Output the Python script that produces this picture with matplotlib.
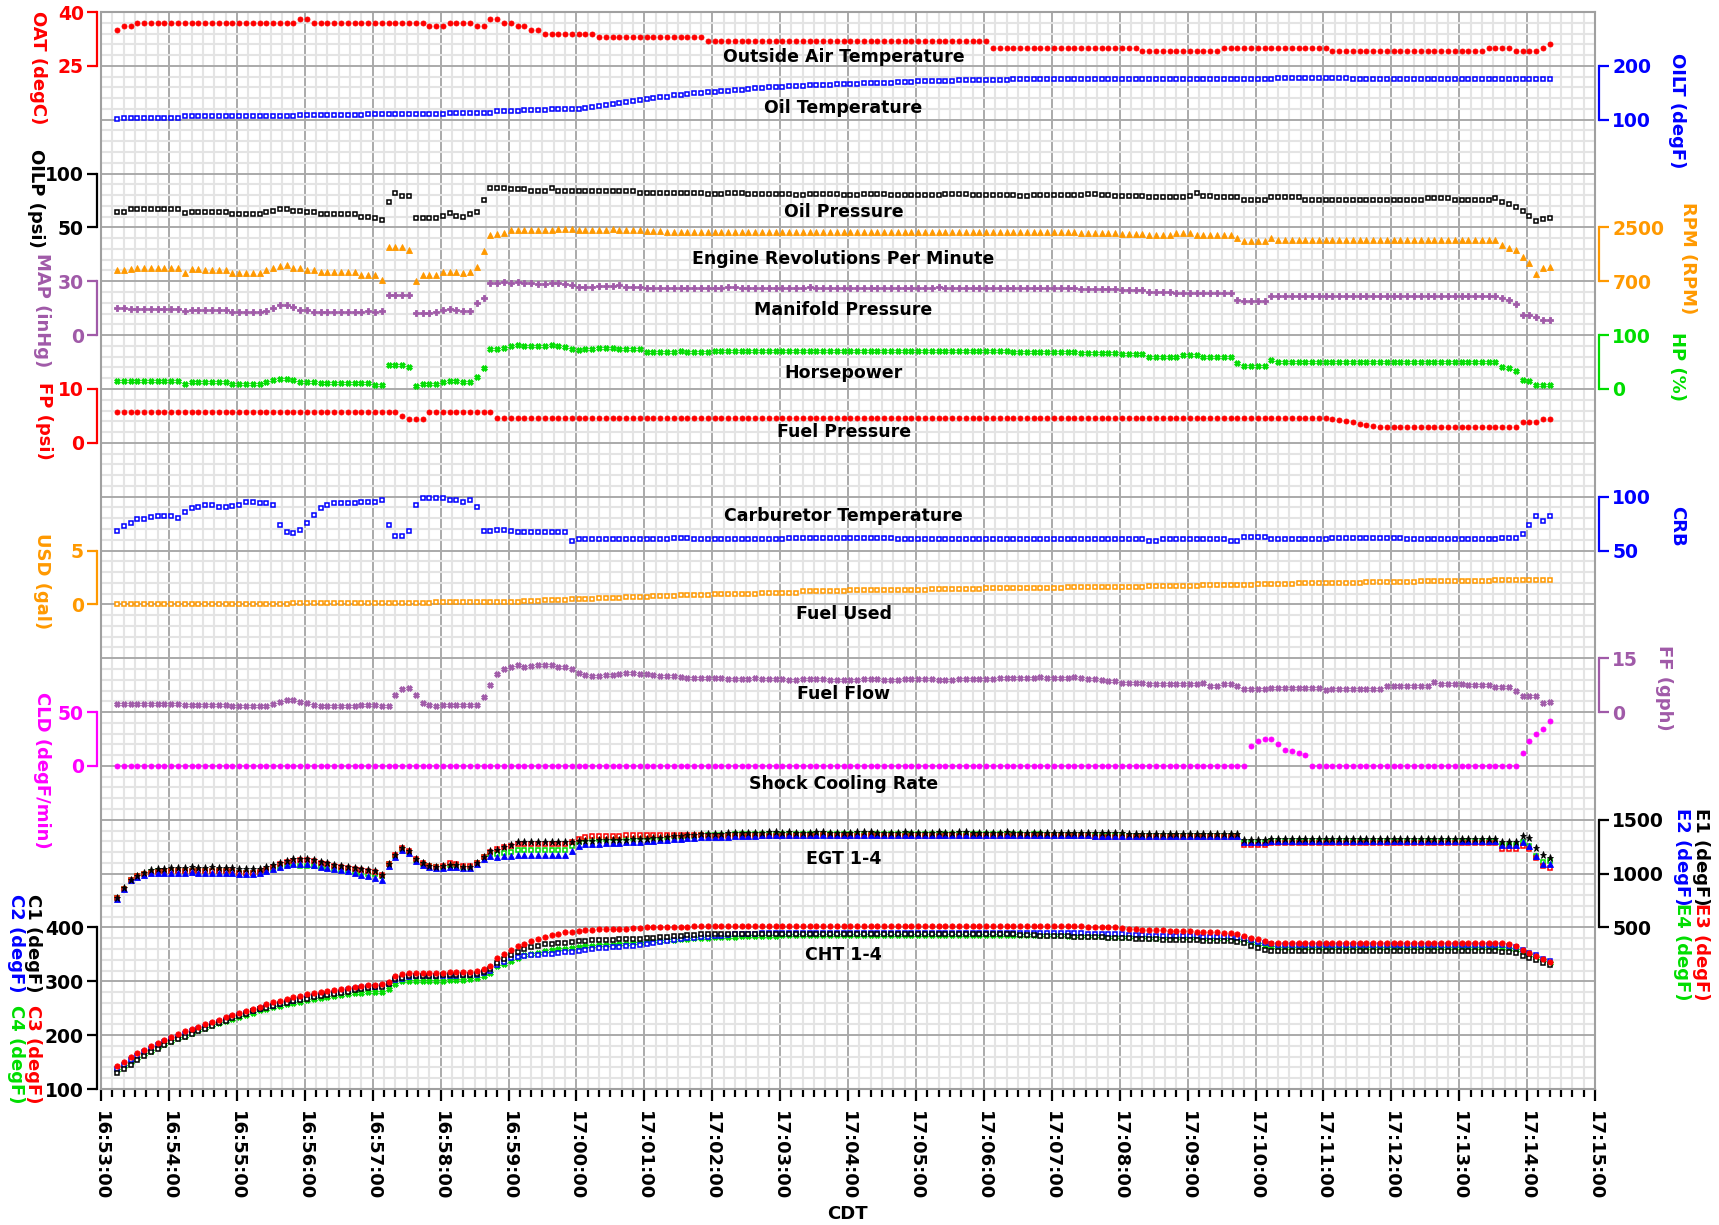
import matplotlib
matplotlib.use("Agg")
import matplotlib.pyplot as plt
from matplotlib.ticker import MultipleLocator
import matplotlib.dates as mdates
import pandas as pd

plt.rcParams["font.family"] = ["DejaVu Sans"]
plt.rcParams["font.weight"] = "bold"

# engine monitor log, one sample every 6 s
start_time = "2023-07-01 16:53:14"
sample_step = "6s"
x_from = "2023-07-01 16:53:00"
x_to = "2023-07-01 17:15:00"

# rows = one minute of samples (first row 16:53, last row 17:14)
oat = [35, 36, 36, 37, 37, 37, 37, 37,
       37, 37, 37, 37, 37, 37, 37, 37, 37, 37,
       37, 37, 37, 37, 37, 37, 37, 37, 37, 38,
       38, 37, 37, 37, 37, 37, 37, 37, 37, 37,
       37, 37, 37, 37, 37, 37, 37, 37, 36, 36,
       36, 37, 37, 37, 37, 36, 36, 38, 38, 37,
       37, 36, 36, 35, 35, 34, 34, 34, 34, 34,
       34, 34, 34, 33, 33, 33, 33, 33, 33, 33,
       33, 33, 33, 33, 33, 33, 33, 33, 33, 32,
       32, 32, 32, 32, 32, 32, 32, 32, 32, 32,
       32, 32, 32, 32, 32, 32, 32, 32, 32, 32,
       32, 32, 32, 32, 32, 32, 32, 32, 32, 32,
       32, 32, 32, 32, 32, 32, 32, 32, 32, 32,
       32, 30, 30, 30, 30, 30, 30, 30, 30, 30,
       30, 30, 30, 30, 30, 30, 30, 30, 30, 30,
       30, 30, 30, 29, 29, 29, 29, 29, 29, 29,
       29, 29, 29, 29, 29, 30, 30, 30, 30, 30,
       30, 30, 30, 30, 30, 30, 30, 30, 30, 30,
       30, 29, 29, 29, 29, 29, 29, 29, 29, 29,
       29, 29, 29, 29, 29, 29, 29, 29, 29, 29,
       29, 29, 29, 29, 30, 30, 30, 30, 29, 29,
       29, 29, 30, 31]

oilt = [101, 104, 104, 104, 104, 104, 104, 104,
        104, 104, 106, 106, 106, 106, 106, 106, 106, 106,
        106, 106, 106, 106, 106, 106, 106, 106, 106, 108,
        108, 108, 108, 108, 108, 108, 108, 108, 108, 111,
        111, 111, 111, 111, 111, 111, 111, 111, 111, 111,
        111, 113, 113, 113, 113, 113, 113, 113, 116, 116,
        116, 116, 118, 118, 118, 118, 120, 120, 120, 120,
        120, 121, 123, 125, 127, 129, 131, 133, 135, 137,
        139, 140, 142, 143, 145, 146, 147, 149, 150, 151,
        152, 153, 154, 155, 156, 157, 158, 159, 160, 161,
        161, 162, 163, 163, 164, 164, 165, 165, 166, 166,
        167, 167, 168, 168, 168, 169, 169, 170, 170, 170,
        171, 171, 171, 172, 172, 172, 173, 173, 173, 173,
        174, 174, 174, 174, 175, 175, 175, 175, 175, 175,
        175, 175, 175, 176, 176, 176, 176, 176, 176, 176,
        176, 176, 176, 176, 176, 176, 176, 176, 176, 176,
        176, 176, 176, 176, 176, 176, 176, 176, 176, 176,
        176, 176, 176, 177, 177, 177, 177, 177, 177, 177,
        177, 177, 177, 177, 176, 176, 176, 176, 176, 176,
        176, 176, 176, 176, 176, 176, 176, 176, 176, 176,
        176, 176, 176, 176, 175, 175, 175, 175, 175, 175,
        175, 175, 175, 175]

oilp = [64, 64, 67, 67, 67, 67, 67, 67,
        67, 67, 63, 64, 64, 64, 64, 64, 64, 62,
        62, 62, 62, 62, 64, 65, 67, 67, 65, 65,
        64, 64, 62, 62, 62, 62, 62, 62, 60, 60,
        59, 57, 74, 82, 79, 79, 59, 59, 59, 59,
        61, 63, 61, 60, 62, 64, 75, 87, 87, 87,
        86, 86, 86, 84, 84, 84, 87, 84, 84, 84,
        84, 84, 84, 84, 84, 84, 84, 84, 84, 82,
        82, 82, 82, 82, 82, 82, 82, 82, 82, 81,
        81, 81, 82, 82, 82, 81, 81, 81, 81, 81,
        81, 81, 80, 80, 81, 81, 81, 81, 81, 80,
        80, 80, 81, 81, 81, 81, 80, 80, 80, 80,
        80, 80, 80, 80, 81, 81, 81, 81, 80, 80,
        80, 80, 80, 80, 80, 79, 79, 80, 80, 80,
        80, 80, 80, 80, 80, 81, 81, 80, 80, 79,
        79, 79, 79, 79, 78, 78, 78, 78, 78, 78,
        79, 82, 79, 79, 78, 78, 78, 78, 75, 75,
        75, 75, 78, 78, 78, 78, 78, 75, 75, 75,
        75, 75, 75, 75, 75, 75, 75, 75, 75, 75,
        75, 75, 75, 75, 75, 77, 77, 77, 77, 75,
        75, 75, 75, 75, 75, 77, 74, 72, 69, 65,
        61, 56, 58, 59]

rpm = [1080, 1080, 1115, 1140, 1140, 1140, 1140, 1140,
       1140, 1140, 980, 1105, 1105, 1080, 1080, 1080, 1080, 970,
       970, 970, 970, 970, 1080, 1140, 1205, 1260, 1140, 1140,
       1080, 1080, 1005, 1005, 1005, 1005, 1005, 1005, 915, 915,
       915, 745, 1835, 1835, 1835, 1735, 720, 925, 925, 925,
       1025, 1025, 1000, 960, 1000, 1190, 1705, 2245, 2290, 2310,
       2400, 2420, 2420, 2400, 2420, 2400, 2400, 2445, 2445, 2445,
       2400, 2400, 2400, 2400, 2400, 2445, 2400, 2400, 2400, 2400,
       2380, 2380, 2380, 2335, 2335, 2335, 2335, 2335, 2335, 2335,
       2335, 2335, 2335, 2335, 2335, 2335, 2335, 2335, 2335, 2335,
       2335, 2335, 2360, 2335, 2335, 2335, 2335, 2335, 2335, 2335,
       2335, 2335, 2335, 2335, 2335, 2335, 2335, 2335, 2335, 2335,
       2335, 2335, 2335, 2360, 2335, 2335, 2335, 2335, 2335, 2335,
       2335, 2335, 2335, 2335, 2335, 2335, 2335, 2335, 2335, 2335,
       2335, 2335, 2335, 2335, 2300, 2300, 2300, 2300, 2300, 2300,
       2280, 2280, 2280, 2280, 2240, 2240, 2240, 2240, 2300, 2300,
       2300, 2240, 2240, 2240, 2240, 2240, 2240, 2140, 2030, 2030,
       2030, 2030, 2140, 2095, 2095, 2095, 2095, 2095, 2095, 2095,
       2095, 2095, 2095, 2095, 2095, 2095, 2095, 2095, 2095, 2095,
       2095, 2095, 2095, 2095, 2095, 2095, 2095, 2095, 2095, 2095,
       2095, 2095, 2095, 2095, 2095, 2095, 1905, 1825, 1735, 1520,
       1310, 945, 1145, 1190]

map_inhg = [14.9, 14.9, 14.3, 14.3, 14.3, 14.3, 14.3, 14.3,
            14.3, 14.3, 13.2, 13.8, 13.8, 13.8, 13.8, 13.8, 13.8, 12.7,
            12.7, 12.7, 12.7, 12.7, 13.2, 14.9, 16.6, 17.0, 15.8, 14.0,
            14.0, 13.0, 13.0, 13.0, 13.0, 13.0, 13.0, 13.0, 13.0, 13.2,
            13.0, 13.2, 22.5, 22.5, 22.5, 22.5, 12.3, 12.3, 12.3, 13.0,
            14.0, 14.3, 14.0, 13.2, 13.6, 18.1, 20.7, 29.1, 29.1, 29.4,
            29.1, 29.4, 29.1, 29.1, 28.7, 28.7, 29.1, 29.1, 28.7, 28.0,
            27.0, 27.0, 27.0, 27.4, 27.4, 27.4, 27.8, 27.0, 27.0, 27.0,
            26.5, 26.5, 26.5, 26.0, 26.0, 26.0, 26.3, 26.3, 26.3, 26.3,
            26.3, 26.3, 26.6, 26.6, 26.3, 26.3, 26.3, 26.3, 26.3, 26.3,
            26.3, 26.3, 26.3, 26.3, 26.6, 26.3, 26.3, 26.3, 26.3, 26.3,
            26.3, 26.3, 26.3, 26.3, 26.3, 26.3, 26.3, 26.3, 26.3, 26.3,
            26.3, 26.3, 26.3, 26.6, 26.3, 26.3, 26.3, 26.3, 26.3, 26.3,
            26.3, 26.3, 26.3, 26.3, 26.0, 26.0, 26.0, 26.0, 26.0, 26.0,
            26.0, 26.0, 26.0, 26.0, 25.5, 25.5, 25.5, 25.5, 25.5, 25.5,
            25.0, 25.0, 25.0, 25.0, 24.0, 24.0, 24.0, 24.0, 23.5, 23.5,
            23.5, 23.5, 23.5, 23.5, 23.5, 23.5, 23.5, 19.8, 19.2, 19.2,
            19.2, 19.2, 21.6, 21.6, 21.6, 21.6, 21.6, 21.6, 21.6, 21.6,
            21.6, 21.6, 21.6, 21.6, 21.6, 21.6, 21.6, 21.6, 21.6, 21.6,
            21.6, 21.6, 21.6, 21.6, 21.6, 21.6, 21.6, 21.6, 21.6, 21.6,
            21.6, 21.6, 21.6, 21.6, 21.6, 21.6, 20.5, 19.8, 17.3, 11.2,
            11.2, 9.9, 8.6, 8.4]

hp = [14.4, 14.4, 14.4, 14.4, 14.4, 14.4, 14.4, 14.4,
      14.4, 14.4, 10.0, 13.8, 13.8, 13.8, 13.8, 13.8, 13.8, 10.0,
      10.0, 10.0, 10.0, 10.0, 12.5, 16.3, 18.8, 18.8, 16.3, 13.8,
      13.8, 13.8, 10.6, 10.6, 10.6, 10.6, 10.6, 10.6, 10.6, 10.6,
      8.1, 8.1, 44.4, 44.4, 44.4, 41.3, 6.3, 10.0, 10.0, 10.0,
      13.6, 14.8, 14.8, 12.3, 13.6, 22.2, 38.9, 74.0, 74.0, 76.5,
      79.0, 81.5, 79.0, 79.0, 79.0, 79.0, 81.5, 79.0, 77.8, 74.0,
      72.8, 74.0, 74.0, 75.3, 75.3, 75.3, 74.0, 74.0, 74.0, 74.0,
      67.9, 69.0, 69.0, 69.0, 69.0, 70.0, 69.0, 69.0, 69.0, 69.0,
      70, 70, 70, 71, 71, 71, 70, 70, 70, 70,
      70, 70, 71, 71, 70, 70, 70, 70, 70, 71,
      71, 70, 70, 70, 70, 70, 70, 71, 71, 70,
      70, 70, 70, 70, 71, 70, 70, 70, 70, 70,
      70, 70, 70, 70, 69, 69, 69, 69, 69, 69,
      69, 69, 69, 69, 66, 66, 66, 66, 66, 66,
      64, 64, 64, 64, 59.4, 59.4, 59.4, 59.4, 59.4, 62.5,
      62.5, 62.5, 59.4, 59.4, 59.4, 59.4, 59.4, 48.8, 42.5, 42.5,
      42.5, 42.5, 53.8, 50, 50, 50, 50, 50, 50, 50,
      50, 50, 50, 50, 50, 50, 50, 50, 50, 50,
      50, 50, 50, 50, 50, 50, 50, 50, 50, 50,
      50, 50, 50, 50, 50, 50, 41.3, 38.8, 33.0, 17.5,
      14.4, 8.1, 8.1, 8.1]

fp = [5.8, 5.8, 5.8, 5.8, 5.8, 5.8, 5.8, 5.8,
      5.8, 5.8, 5.8, 5.8, 5.8, 5.8, 5.8, 5.8, 5.8, 5.8,
      5.8, 5.8, 5.8, 5.8, 5.8, 5.8, 5.8, 5.8, 5.8, 5.8,
      5.8, 5.8, 5.8, 5.8, 5.8, 5.8, 5.8, 5.8, 5.8, 5.8,
      5.8, 5.8, 5.8, 5.8, 5.0, 4.4, 4.4, 4.4, 5.8, 5.8,
      5.8, 5.8, 5.8, 5.8, 5.8, 5.8, 5.8, 5.8, 4.7, 4.7,
      4.7, 4.7, 4.7, 4.7, 4.7, 4.7, 4.7, 4.7, 4.7, 4.7,
      4.7, 4.7, 4.7, 4.7, 4.7, 4.7, 4.7, 4.7, 4.7, 4.7,
      4.7, 4.7, 4.7, 4.7, 4.7, 4.7, 4.7, 4.7, 4.7, 4.7,
      4.7, 4.7, 4.7, 4.7, 4.7, 4.7, 4.7, 4.7, 4.7, 4.7,
      4.7, 4.7, 4.7, 4.7, 4.7, 4.7, 4.7, 4.7, 4.7, 4.7,
      4.7, 4.7, 4.7, 4.7, 4.7, 4.7, 4.7, 4.7, 4.7, 4.7,
      4.7, 4.7, 4.7, 4.7, 4.7, 4.7, 4.7, 4.7, 4.7, 4.7,
      4.7, 4.7, 4.7, 4.7, 4.7, 4.7, 4.7, 4.7, 4.7, 4.7,
      4.7, 4.7, 4.7, 4.7, 4.7, 4.7, 4.7, 4.7, 4.7, 4.7,
      4.7, 4.7, 4.7, 4.7, 4.7, 4.7, 4.7, 4.7, 4.7, 4.7,
      4.7, 4.7, 4.7, 4.7, 4.7, 4.7, 4.7, 4.7, 4.7, 4.7,
      4.7, 4.7, 4.7, 4.7, 4.7, 4.7, 4.7, 4.7, 4.7, 4.7,
      4.6, 4.4, 4.3, 4.0, 3.8, 3.5, 3.3, 3.1, 3.0, 2.85,
      2.85, 2.85, 2.85, 2.85, 2.85, 2.85, 2.85, 2.85, 2.85, 2.85,
      2.85, 2.85, 2.85, 2.85, 2.85, 2.85, 2.85, 2.85, 2.85, 3.9,
      3.9, 3.9, 4.4, 4.4]

crb = [68.4, 72.5, 75.6, 78.8, 79.7, 80.9, 81.9, 81.9,
       81.9, 80.6, 85.6, 89.7, 90.6, 91.9, 91.9, 90.6, 90.6, 91.6,
       92.5, 95.3, 95.3, 94.4, 93.8, 91.9, 74.1, 66.9, 66.3, 69.1,
       75.3, 83.4, 89.4, 91.9, 93.8, 93.8, 93.8, 93.8, 94.7, 95.3,
       95.3, 96.6, 74.1, 63.1, 63.1, 68.4, 92.5, 98.4, 98.4, 98.4,
       98.4, 96.9, 96.9, 95.3, 96.9, 90.3, 68.4, 67.8, 69.4, 69.4,
       68.1, 67.5, 67.5, 67.5, 67.5, 67.5, 67.5, 67.5, 67.5, 59.1,
       60.6, 60.6, 60.6, 60.6, 60.6, 60.6, 60.6, 60.6, 60.6, 60.6,
       60.6, 60.6, 60.6, 60.6, 61.6, 61.6, 61.6, 60.6, 60.6, 60.6,
       60.6, 60.6, 60.6, 60.6, 60.6, 60.6, 60.6, 60.6, 60.6, 60.6,
       60.6, 61.6, 61.6, 61.6, 61.6, 61.6, 61.6, 61.6, 61.6, 61.6,
       61.6, 61.6, 61.6, 61.6, 61.6, 61.6, 61.6, 60.6, 60.6, 60.6,
       60.6, 60.6, 60.6, 60.6, 60.6, 60.6, 60.6, 60.6, 60.6, 60.6,
       60.6, 60.6, 60.6, 60.6, 60.6, 60.6, 60.6, 60.6, 60.6, 60.6,
       60.6, 60.6, 60.6, 60.6, 60.6, 60.6, 60.6, 60.6, 60.6, 60.6,
       60.6, 60.6, 60.6, 60.6, 59.1, 59.1, 60.6, 60.6, 60.6, 60.6,
       60.6, 60.6, 60.6, 60.6, 60.6, 60.6, 59.1, 59.1, 62.2, 62.2,
       62.2, 62.2, 60.6, 60.6, 60.6, 60.6, 60.6, 60.6, 60.6, 60.6,
       60.6, 61.6, 61.6, 61.6, 61.6, 61.6, 61.6, 61.6, 61.6, 61.6,
       61.6, 61.6, 60.6, 60.6, 60.6, 60.6, 60.6, 60.6, 60.6, 60.6,
       60.6, 60.6, 60.6, 60.6, 60.6, 60.6, 61.6, 61.6, 61.6, 65.3,
       73.4, 81.9, 77.2, 82.2]

usd = [0.0, 0.0, 0.0, 0.0, 0.0, 0.0, 0.0, 0.0,
       0.0, 0.0, 0.0, 0.0, 0.0, 0.0, 0.0, 0.0, 0.0, 0.0,
       0.0, 0.0, 0.0, 0.0, 0.0, 0.0, 0.0, 0.0, 0.1, 0.1,
       0.1, 0.1, 0.1, 0.1, 0.1, 0.1, 0.1, 0.1, 0.1, 0.1,
       0.1, 0.1, 0.1, 0.1, 0.1, 0.1, 0.1, 0.1, 0.1, 0.2,
       0.2, 0.2, 0.2, 0.2, 0.2, 0.2, 0.2, 0.2, 0.2, 0.2,
       0.2, 0.2, 0.3, 0.3, 0.3, 0.4, 0.4, 0.4, 0.4, 0.5,
       0.5, 0.5, 0.5, 0.6, 0.6, 0.6, 0.6, 0.7, 0.7, 0.7,
       0.7, 0.8, 0.8, 0.8, 0.8, 0.9, 0.9, 0.9, 0.9, 0.9,
       1.0, 1.0, 1.0, 1.0, 1.0, 1.0, 1.0, 1.1, 1.1, 1.1,
       1.1, 1.1, 1.1, 1.2, 1.2, 1.2, 1.2, 1.2, 1.2, 1.2,
       1.3, 1.3, 1.3, 1.3, 1.3, 1.3, 1.3, 1.3, 1.3, 1.3,
       1.3, 1.3, 1.4, 1.4, 1.4, 1.4, 1.4, 1.4, 1.4, 1.4,
       1.5, 1.5, 1.5, 1.5, 1.5, 1.5, 1.5, 1.5, 1.5, 1.5,
       1.5, 1.5, 1.6, 1.6, 1.6, 1.6, 1.6, 1.6, 1.6, 1.6,
       1.6, 1.6, 1.6, 1.6, 1.7, 1.7, 1.7, 1.7, 1.7, 1.7,
       1.7, 1.7, 1.8, 1.8, 1.8, 1.8, 1.8, 1.8, 1.8, 1.8,
       1.9, 1.9, 1.9, 1.9, 1.9, 1.9, 2.0, 2.0, 2.0, 2.0,
       2.0, 2.0, 2.0, 2.0, 2.0, 2.0, 2.1, 2.1, 2.1, 2.1,
       2.1, 2.1, 2.1, 2.1, 2.2, 2.2, 2.2, 2.2, 2.2, 2.2,
       2.2, 2.2, 2.2, 2.2, 2.2, 2.3, 2.3, 2.3, 2.3, 2.3,
       2.3, 2.3, 2.3, 2.3]

ff = [2.3, 2.3, 2.3, 2.3, 2.3, 2.3, 2.3, 2.3,
      2.3, 2.3, 2.1, 1.96, 1.96, 1.96, 1.96, 1.96, 1.96, 1.8,
      1.6, 1.6, 1.6, 1.6, 1.8, 2.2, 2.9, 3.35, 3.35, 2.8,
      2.5, 1.96, 1.6, 1.6, 1.6, 1.6, 1.6, 1.6, 1.96, 2.1,
      1.96, 1.8, 1.7, 4.75, 6.3, 6.8, 4.8, 2.6, 1.96, 1.6,
      1.86, 1.86, 1.86, 1.86, 1.86, 1.86, 4.3, 7.6, 10.7, 12.1,
      12.6, 13.0, 12.6, 12.8, 13.1, 13.1, 13.1, 12.6, 12.6, 12.1,
      11.0, 10.4, 10.1, 10.1, 10.4, 10.4, 10.6, 10.8, 10.8, 10.6,
      10.6, 10.4, 10.1, 10.1, 10.0, 9.8, 9.6, 9.6, 9.4, 9.4,
      9.4, 9.4, 9.2, 9.2, 9.2, 9.2, 9.4, 9.2, 9.2, 9.2,
      9.2, 9.0, 9.0, 9.2, 9.2, 9.2, 9.2, 9.0, 9.0, 9.0,
      9.0, 9.0, 9.2, 9.2, 9.2, 9.0, 9.0, 9.0, 9.2, 9.2,
      9.2, 9.2, 9.2, 9.0, 9.0, 9.0, 9.2, 9.2, 9.2, 9.2,
      9.2, 9.2, 9.4, 9.4, 9.4, 9.6, 9.6, 9.6, 9.8, 9.6,
      9.6, 9.6, 9.6, 9.8, 9.6, 9.2, 9.2, 9.0, 8.6, 8.6,
      8.2, 8.2, 8.0, 8.0, 7.7, 7.7, 7.7, 7.7, 7.7, 7.7,
      7.7, 7.7, 8.1, 7.4, 7.4, 7.9, 7.8, 7.3, 6.4, 6.4,
      6.4, 6.4, 6.7, 6.7, 6.7, 6.7, 6.7, 6.7, 6.7, 6.7,
      6.05, 6.5, 6.5, 6.5, 6.5, 6.5, 6.5, 6.5, 6.5, 7.4,
      7.4, 7.4, 7.4, 7.4, 7.4, 7.4, 8.4, 7.9, 7.9, 7.9,
      7.9, 7.6, 7.6, 7.6, 7.6, 7.0, 7.0, 7.0, 5.9, 4.4,
      4.4, 4.4, 2.5, 2.8]

cld = [0, 0, 0, 0, 0, 0, 0, 0,
       0, 0, 0, 0, 0, 0, 0, 0, 0, 0,
       0, 0, 0, 0, 0, 0, 0, 0, 0, 0,
       0, 0, 0, 0, 0, 0, 0, 0, 0, 0,
       0, 0, 0, 0, 0, 0, 0, 0, 0, 0,
       0, 0, 0, 0, 0, 0, 0, 0, 0, 0,
       0, 0, 0, 0, 0, 0, 0, 0, 0, 0,
       0, 0, 0, 0, 0, 0, 0, 0, 0, 0,
       0, 0, 0, 0, 0, 0, 0, 0, 0, 0,
       0, 0, 0, 0, 0, 0, 0, 0, 0, 0,
       0, 0, 0, 0, 0, 0, 0, 0, 0, 0,
       0, 0, 0, 0, 0, 0, 0, 0, 0, 0,
       0, 0, 0, 0, 0, 0, 0, 0, 0, 0,
       0, 0, 0, 0, 0, 0, 0, 0, 0, 0,
       0, 0, 0, 0, 0, 0, 0, 0, 0, 0,
       0, 0, 0, 0, 0, 0, 0, 0, 0, 0,
       0, 0, 0, 0, 0, 0, 0, 0, 0, 18.1,
       22.8, 25.0, 25.0, 20.3, 15.0, 13.8, 11.9, 10.3, 0, 0,
       0, 0, 0, 0, 0, 0, 0, 0, 0, 0,
       0, 0, 0, 0, 0, 0, 0, 0, 0, 0,
       0, 0, 0, 0, 0, 0, 0, 0, 0, 11.9,
       23.4, 29.7, 34.4, 41.6]

egt1 = [775, 865, 945, 980, 1010, 1030, 1040, 1045,
        1050, 1056, 1056, 1060, 1056, 1056, 1058, 1056, 1056, 1050,
        1040, 1040, 1040, 1042, 1060, 1080, 1100, 1120, 1135, 1140,
        1140, 1125, 1110, 1095, 1080, 1070, 1060, 1050, 1040, 1030,
        1020, 990, 1090, 1173, 1235, 1207, 1136, 1099, 1074, 1062,
        1070, 1083, 1083, 1065, 1065, 1102, 1157, 1213, 1220, 1250,
        1268, 1290, 1290, 1290, 1290, 1290, 1290, 1290, 1290, 1290,
        1305, 1306, 1306, 1308, 1310, 1312, 1314, 1316, 1318, 1320,
        1325, 1330, 1335, 1340, 1345, 1350, 1355, 1360, 1365, 1368,
        1370, 1372, 1374, 1376, 1378, 1380, 1380, 1380, 1382, 1382,
        1380, 1382, 1380, 1378, 1380, 1385, 1382, 1380, 1378, 1380,
        1380, 1382, 1385, 1382, 1380, 1380, 1378, 1380, 1382, 1380,
        1380, 1378, 1380, 1382, 1380, 1380, 1385, 1382, 1380, 1380,
        1378, 1380, 1380, 1382, 1380, 1380, 1378, 1380, 1380, 1378,
        1378, 1380, 1380, 1378, 1376, 1378, 1380, 1378, 1376, 1376,
        1375, 1372, 1370, 1368, 1366, 1366, 1366, 1366, 1366, 1366,
        1366, 1366, 1366, 1366, 1366, 1366, 1366, 1366, 1314, 1314,
        1314, 1314, 1326, 1326, 1326, 1326, 1326, 1326, 1326, 1326,
        1326, 1326, 1326, 1326, 1326, 1326, 1326, 1326, 1326, 1326,
        1326, 1326, 1326, 1326, 1326, 1326, 1326, 1326, 1326, 1326,
        1326, 1326, 1326, 1326, 1326, 1326, 1289, 1289, 1289, 1351,
        1335, 1242, 1174, 1149]

egt2 = [765, 855, 940, 970, 990, 1005, 1010, 1010,
        1010, 1010, 1008, 1012, 1010, 1010, 1010, 1010, 1008, 1005,
        1000, 1000, 1000, 1002, 1020, 1040, 1060, 1080, 1090, 1093,
        1093, 1080, 1065, 1050, 1040, 1030, 1020, 1005, 990, 975,
        963, 941, 1070, 1150, 1215, 1190, 1120, 1080, 1060, 1050,
        1055, 1065, 1065, 1050, 1050, 1085, 1140, 1160, 1150, 1160,
        1165, 1173, 1173, 1173, 1173, 1173, 1173, 1173, 1173, 1213,
        1259, 1275, 1275, 1278, 1280, 1283, 1286, 1290, 1293, 1296,
        1300, 1305, 1310, 1315, 1320, 1325, 1330, 1333, 1336, 1338,
        1340, 1342, 1344, 1346, 1348, 1350, 1352, 1355, 1358, 1358,
        1358, 1360, 1358, 1356, 1358, 1360, 1358, 1358, 1356, 1358,
        1358, 1360, 1362, 1360, 1358, 1358, 1356, 1358, 1360, 1358,
        1358, 1356, 1358, 1360, 1358, 1358, 1362, 1360, 1358, 1358,
        1356, 1358, 1358, 1360, 1358, 1358, 1356, 1358, 1358, 1356,
        1356, 1358, 1356, 1355, 1354, 1354, 1352, 1352, 1352, 1350,
        1350, 1350, 1350, 1350, 1350, 1350, 1350, 1350, 1350, 1350,
        1350, 1350, 1350, 1350, 1350, 1350, 1350, 1350, 1295, 1295,
        1295, 1295, 1307, 1307, 1307, 1307, 1307, 1307, 1307, 1307,
        1307, 1307, 1307, 1307, 1307, 1307, 1307, 1307, 1307, 1307,
        1307, 1307, 1307, 1307, 1307, 1307, 1307, 1307, 1307, 1307,
        1307, 1307, 1307, 1307, 1307, 1307, 1264, 1264, 1264, 1295,
        1258, 1165, 1087, 1087]

egt3 = [770, 860, 945, 975, 995, 1010, 1015, 1020,
        1025, 1025, 1022, 1028, 1025, 1025, 1025, 1025, 1025, 1020,
        1010, 1010, 1010, 1012, 1035, 1060, 1085, 1105, 1120, 1127,
        1127, 1115, 1100, 1085, 1075, 1065, 1055, 1045, 1035, 1025,
        1019, 990, 1090, 1173, 1235, 1207, 1136, 1099, 1074, 1062,
        1075, 1099, 1090, 1070, 1070, 1102, 1157, 1205, 1225, 1245,
        1260, 1278, 1278, 1278, 1278, 1278, 1278, 1278, 1278, 1296,
        1321, 1336, 1346, 1346, 1348, 1350, 1352, 1354, 1356, 1358,
        1360, 1360, 1360, 1358, 1358, 1356, 1356, 1354, 1354, 1352,
        1352, 1352, 1350, 1352, 1352, 1350, 1352, 1352, 1350, 1352,
        1352, 1350, 1352, 1352, 1350, 1352, 1354, 1352, 1350, 1352,
        1352, 1350, 1352, 1354, 1352, 1350, 1352, 1352, 1350, 1352,
        1350, 1352, 1352, 1350, 1352, 1354, 1352, 1350, 1352, 1350,
        1350, 1352, 1350, 1350, 1352, 1350, 1348, 1350, 1350, 1348,
        1348, 1348, 1346, 1346, 1345, 1345, 1344, 1344, 1342, 1342,
        1342, 1341, 1340, 1340, 1339, 1339, 1339, 1339, 1339, 1339,
        1339, 1339, 1339, 1339, 1339, 1339, 1339, 1339, 1264, 1264,
        1264, 1264, 1283, 1283, 1283, 1283, 1283, 1283, 1283, 1283,
        1283, 1283, 1283, 1283, 1283, 1283, 1283, 1283, 1283, 1283,
        1283, 1283, 1283, 1283, 1283, 1283, 1283, 1283, 1283, 1283,
        1283, 1283, 1283, 1283, 1283, 1283, 1233, 1233, 1233, 1258,
        1227, 1149, 1071, 1056]

egt4 = [770, 860, 945, 975, 995, 1015, 1020, 1025,
        1022, 1022, 1020, 1025, 1022, 1022, 1022, 1022, 1020, 1015,
        1005, 1005, 1005, 1008, 1025, 1045, 1065, 1080, 1085, 1075,
        1075, 1070, 1060, 1050, 1045, 1035, 1025, 1015, 1005, 995,
        994, 975, 1085, 1165, 1225, 1200, 1130, 1090, 1070, 1058,
        1065, 1078, 1078, 1060, 1060, 1095, 1150, 1180, 1180, 1195,
        1200, 1222, 1222, 1222, 1222, 1222, 1222, 1222, 1222, 1259,
        1290, 1321, 1322, 1324, 1326, 1328, 1330, 1332, 1334, 1336,
        1338, 1340, 1342, 1344, 1346, 1348, 1350, 1352, 1354, 1355,
        1358, 1360, 1362, 1364, 1365, 1365, 1366, 1366, 1365, 1366,
        1365, 1366, 1365, 1364, 1366, 1368, 1366, 1365, 1364, 1366,
        1366, 1365, 1368, 1366, 1365, 1365, 1364, 1366, 1366, 1365,
        1365, 1364, 1365, 1366, 1365, 1366, 1368, 1366, 1365, 1365,
        1364, 1365, 1365, 1366, 1365, 1364, 1362, 1364, 1364, 1362,
        1362, 1362, 1360, 1360, 1358, 1358, 1356, 1356, 1355, 1354,
        1354, 1353, 1352, 1351, 1350, 1350, 1350, 1350, 1350, 1350,
        1350, 1350, 1350, 1350, 1350, 1350, 1350, 1350, 1290, 1290,
        1290, 1290, 1307, 1307, 1307, 1307, 1307, 1307, 1307, 1307,
        1307, 1307, 1307, 1307, 1307, 1307, 1307, 1307, 1307, 1307,
        1307, 1307, 1307, 1307, 1307, 1307, 1307, 1307, 1307, 1307,
        1307, 1307, 1307, 1307, 1307, 1307, 1264, 1264, 1264, 1290,
        1260, 1165, 1109, 1118]

cht1 = [129, 137, 145, 153, 161, 168, 174, 181,
        187, 192, 197, 202, 207, 212, 217, 222, 227, 232,
        236, 240, 244, 248, 251, 254, 257, 260, 263, 265,
        268, 271, 273, 275, 277, 279, 281, 283, 285, 288,
        289, 290, 295, 304, 307, 310, 310, 310, 310, 310,
        311, 311, 311, 312, 312, 313, 317, 322, 334, 341,
        348, 354, 360, 363, 366, 369, 370, 371, 372, 373,
        375, 375, 376, 376, 377, 377, 378, 378, 379, 379,
        380, 381, 382, 383, 384, 385, 386, 386, 387, 387,
        387, 388, 388, 388, 388, 388, 388, 388, 388, 388,
        388, 388, 388, 388, 388, 388, 388, 388, 388, 388,
        388, 388, 388, 388, 388, 388, 388, 388, 388, 388,
        388, 388, 388, 388, 388, 388, 388, 388, 388, 388,
        388, 388, 387, 387, 387, 386, 386, 386, 385, 385,
        384, 384, 384, 383, 383, 382, 382, 382, 381, 381,
        381, 380, 379, 378, 378, 378, 377, 377, 377, 376,
        376, 376, 375, 375, 375, 374, 374, 373, 371, 365,
        362, 359, 356, 356, 356, 356, 356, 356, 356, 356,
        356, 356, 356, 356, 356, 356, 356, 356, 356, 356,
        356, 356, 356, 356, 356, 356, 356, 356, 356, 356,
        356, 356, 356, 356, 356, 356, 355, 354, 352, 347,
        343, 339, 334, 331]

cht2 = [137, 145, 153, 161, 168, 174, 181, 187,
        192, 197, 202, 207, 212, 216, 221, 225, 229, 233,
        237, 241, 245, 249, 252, 255, 258, 261, 264, 267,
        270, 273, 275, 277, 279, 281, 283, 285, 287, 289,
        290, 291, 295, 302, 305, 308, 309, 309, 309, 309,
        310, 310, 310, 311, 311, 312, 316, 320, 330, 336,
        344, 345, 347, 348, 349, 350, 351, 352, 354, 355,
        357, 359, 360, 361, 362, 363, 364, 365, 366, 367,
        369, 371, 373, 375, 377, 378, 380, 381, 382, 383,
        384, 385, 386, 387, 387, 388, 388, 389, 389, 389,
        390, 390, 390, 390, 390, 390, 390, 390, 390, 390,
        390, 390, 390, 390, 390, 390, 390, 390, 390, 390,
        390, 390, 390, 390, 390, 390, 390, 390, 390, 390,
        390, 390, 390, 390, 390, 390, 390, 390, 390, 390,
        390, 390, 389, 389, 389, 388, 388, 388, 387, 387,
        387, 386, 386, 386, 385, 385, 385, 385, 385, 384,
        384, 384, 383, 383, 383, 382, 382, 381, 378, 376,
        373, 371, 369, 368, 368, 368, 368, 368, 368, 368,
        368, 368, 368, 368, 368, 368, 368, 368, 368, 368,
        368, 368, 368, 368, 368, 368, 368, 368, 368, 368,
        368, 368, 368, 368, 368, 368, 367, 366, 364, 359,
        352, 348, 342, 337]

cht3 = [142, 151, 159, 167, 173, 179, 186, 191,
        197, 202, 207, 212, 216, 220, 225, 229, 233, 237,
        241, 245, 249, 253, 257, 261, 264, 267, 270, 273,
        276, 278, 280, 282, 284, 286, 288, 290, 291, 293,
        294, 295, 299, 309, 314, 316, 316, 316, 316, 316,
        316, 317, 317, 317, 318, 319, 323, 328, 343, 350,
        359, 365, 370, 375, 378, 383, 386, 388, 391, 392,
        394, 396, 396, 397, 397, 398, 398, 398, 399, 399,
        400, 400, 400, 401, 401, 401, 401, 402, 402, 402,
        402, 402, 402, 403, 403, 403, 403, 403, 403, 403,
        403, 403, 403, 403, 403, 403, 403, 403, 403, 403,
        403, 403, 403, 403, 403, 403, 403, 403, 403, 403,
        403, 403, 403, 403, 403, 403, 403, 403, 403, 403,
        403, 403, 403, 403, 403, 403, 403, 403, 403, 403,
        403, 403, 402, 402, 402, 401, 401, 400, 400, 400,
        399, 398, 397, 396, 395, 395, 395, 394, 394, 393,
        393, 392, 392, 391, 391, 390, 389, 388, 385, 381,
        378, 375, 371, 371, 371, 371, 371, 371, 371, 371,
        371, 371, 371, 371, 371, 371, 371, 371, 371, 371,
        371, 371, 371, 371, 371, 371, 371, 371, 371, 371,
        371, 371, 371, 371, 371, 371, 371, 369, 365, 359,
        352, 347, 341, 336]

cht4 = [135, 143, 151, 158, 165, 171, 178, 184,
        189, 194, 199, 204, 209, 213, 218, 222, 226, 230,
        234, 238, 242, 246, 249, 252, 255, 258, 260, 262,
        265, 267, 269, 271, 273, 275, 277, 278, 279, 280,
        281, 281, 285, 295, 300, 300, 300, 300, 300, 300,
        301, 302, 302, 303, 304, 306, 310, 315, 329, 332,
        338, 344, 348, 351, 353, 356, 358, 360, 360, 362,
        364, 366, 366, 367, 368, 368, 369, 370, 371, 372,
        373, 374, 375, 376, 377, 378, 379, 380, 381, 381,
        382, 382, 383, 383, 384, 384, 385, 385, 385, 385,
        386, 386, 386, 386, 386, 386, 386, 386, 386, 386,
        386, 386, 386, 386, 386, 386, 386, 386, 386, 386,
        386, 386, 386, 386, 386, 386, 386, 386, 386, 386,
        386, 386, 386, 386, 386, 386, 386, 386, 386, 386,
        386, 386, 385, 385, 385, 384, 384, 384, 383, 383,
        383, 383, 382, 382, 381, 381, 381, 381, 381, 380,
        380, 380, 379, 379, 379, 378, 378, 377, 374, 372,
        369, 366, 363, 362, 362, 362, 362, 362, 362, 362,
        362, 362, 362, 362, 362, 362, 362, 362, 362, 362,
        362, 362, 362, 362, 362, 362, 362, 362, 362, 362,
        362, 362, 362, 362, 362, 362, 361, 360, 358, 354,
        349, 344, 339, 334]

titles = ["Outside Air Temperature", "Oil Temperature", "Oil Pressure",
          "Engine Revolutions Per Minute", "Manifold Pressure", "Horsepower",
          "Fuel Pressure", "Carburetor Temperature", "Fuel Used", "Fuel Flow",
          "Shock Cooling Rate", "EGT 1-4", "CHT 1-4"]
title_y = [0.958, 0.911, 0.814, 0.771, 0.723, 0.665, 0.610,
           0.532, 0.441, 0.367, 0.283, 0.214, 0.124]

RED = "#FF0000"
BLUE = "#0000FF"
ORANGE = "#FF9900"
PURPLE = "#A05AA8"
GREEN = "#00DD00"
MAGENTA = "#FF00FF"
N_BANDS = 20

t = pd.date_range(start_time, periods=len(oat), freq=sample_step)

fig = plt.figure(figsize=(17.19, 12.25), dpi=100)
ax = fig.add_axes([0.0588, 0.111, 0.8691, 0.8792])
ax.set_xlim(pd.Timestamp(x_from), pd.Timestamp(x_to))
ax.set_ylim(0, N_BANDS)
ax.xaxis.set_major_locator(mdates.MinuteLocator())
ax.xaxis.set_minor_locator(mdates.SecondLocator(bysecond=range(0, 60, 10)))
ax.xaxis.set_major_formatter(mdates.DateFormatter("%H:%M:%S"))
ax.yaxis.set_major_locator(MultipleLocator(1))
ax.yaxis.set_minor_locator(MultipleLocator(0.2))
ax.grid(which="minor", color="#E4E4E4", lw=1.5)
ax.grid(which="major", color="#AAAAAA", lw=1.4)
ax.set_axisbelow(True)
ax.tick_params(axis="y", which="both", length=0, labelleft=False)
ax.tick_params(axis="x", which="major", length=8.6, width=1.6, color="black",
               labelsize=13, labelrotation=-90, pad=7)
ax.tick_params(axis="x", which="minor", length=6, width=1.6, color="black")
for s in ax.spines.values():
    s.set_color("#A0A0A0")
    s.set_linewidth(1.5)
for lab in ax.get_xticklabels():
    lab.set_fontweight("bold")
fig.text(0.493, 1 - 1214 / 1225, "CDT", ha="center", va="center", fontsize=13)

for txt, y in zip(titles, title_y):
    ax.text(0.497, y, txt, transform=ax.transAxes, ha="center", va="center",
            fontsize=12.5, fontweight="bold", zorder=5)


def band_axis(side, v_top, k_top, v_bot, k_bot, ticks, color):
    per = (v_top - v_bot) / (k_bot - k_top)
    hi = v_top + k_top * per
    tw = ax.twinx()
    tw.set_ylim(hi - N_BANDS * per, hi)
    for s in tw.spines.values():
        s.set_visible(False)
    sp = tw.spines[side]
    sp.set_visible(True)
    sp.set_bounds(v_bot, v_top)
    sp.set_position(("outward", 3))
    sp.set_color(color)
    sp.set_linewidth(1.6)
    tw.yaxis.set_ticks_position(side)
    tw.set_yticks(ticks)
    tw.tick_params(axis="y", colors=color, length=7, width=1.6, labelsize=13.5, pad=2.5)
    for lab in tw.get_yticklabels():
        lab.set_fontweight("bold")
    return tw


def dots(tw, y, color, marker, filled=True, ms=3.6):
    if filled:
        tw.plot(t, y, ls="none", marker=marker, ms=ms, color=color, mec=color, mew=0.6)
    else:
        tw.plot(t, y, ls="none", marker=marker, ms=ms, mfc="white", mec=color, mew=1.1)


a = band_axis("left", 40, 0, 25, 1, [25, 40], RED)
dots(a, oat, RED, "o")
a = band_axis("right", 200, 1, 100, 2, [100, 200], BLUE)
dots(a, oilt, BLUE, "s", filled=False, ms=3.3)
a = band_axis("left", 100, 3, 50, 4, [50, 100], "black")
dots(a, oilp, "black", "s", filled=False, ms=3.3)
a = band_axis("right", 2500, 4, 700, 5, [700, 2500], ORANGE)
dots(a, rpm, ORANGE, "^", ms=4)
a = band_axis("left", 30, 5, 0, 6, [0, 30], PURPLE)
dots(a, map_inhg, PURPLE, "P", ms=4)
a = band_axis("right", 100, 6, 0, 7, [0, 100], GREEN)
dots(a, hp, GREEN, "X", ms=4)
a = band_axis("left", 10, 7, 0, 8, [0, 10], RED)
dots(a, fp, RED, "o")
a = band_axis("right", 100, 9, 50, 10, [50, 100], BLUE)
dots(a, crb, BLUE, "s", filled=False, ms=3.4)
a = band_axis("left", 5, 10, 0, 11, [0, 5], ORANGE)
dots(a, usd, ORANGE, "s", filled=False, ms=3.3)
a = band_axis("right", 15, 12, 0, 13, [0, 15], PURPLE)
dots(a, ff, PURPLE, "X", ms=4)
a = band_axis("left", 50, 13, 0, 14, [0, 50], MAGENTA)
dots(a, cld, MAGENTA, "o")
a = band_axis("right", 1500, 15, 500, 17, [500, 1000, 1500], "black")
dots(a, egt4, GREEN, "s", filled=False, ms=3.3)
dots(a, egt3, RED, "s", filled=False, ms=3.3)
dots(a, egt2, BLUE, "^", ms=4)
dots(a, egt1, "black", "*", ms=5.2)
a = band_axis("left", 400, 17, 100, 20, [100, 200, 300, 400], "black")
dots(a, cht4, GREEN, "X", ms=3.8)
dots(a, cht2, BLUE, "s", filled=False, ms=3.3)
dots(a, cht1, "black", "s", filled=False, ms=3.3)
dots(a, cht3, RED, "o", ms=3.8)

# axis titles, rotated to read downwards
W, H = 1719.0, 1225.0
side_labels = [
    ("OAT (degC)", RED, 38, 68), ("OILP (psi)", "black", 36, 198),
    ("MAP (inHg)", PURPLE, 42, 310), ("FP (psi)", RED, 44, 421),
    ("USD (gal)", ORANGE, 42, 581), ("CLD (degF/min)", MAGENTA, 42, 770),
    ("C1 (degF)", "black", 33, 943), ("C3 (degF)", RED, 33, 1054),
    ("C2 (degF)", BLUE, 16, 943), ("C4 (degF)", GREEN, 16, 1054),
    ("OILT (degF)", BLUE, 1677, 111), ("RPM (RPM)", ORANGE, 1688, 258),
    ("HP (%)", GREEN, 1677, 366), ("CRB", BLUE, 1677, 526),
    ("FF (gph)", PURPLE, 1664, 688),
    ("E1 (degF)", "black", 1701, 857), ("E3 (degF)", RED, 1701, 952),
    ("E2 (degF)", BLUE, 1682, 857), ("E4 (degF)", GREEN, 1682, 952),
]
for txt, col, px, py in side_labels:
    fig.text(px / W, 1 - py / H, txt, color=col, rotation=270,
             ha="center", va="center", fontsize=13, fontweight="bold")

fig.savefig("out.png", dpi=100)
